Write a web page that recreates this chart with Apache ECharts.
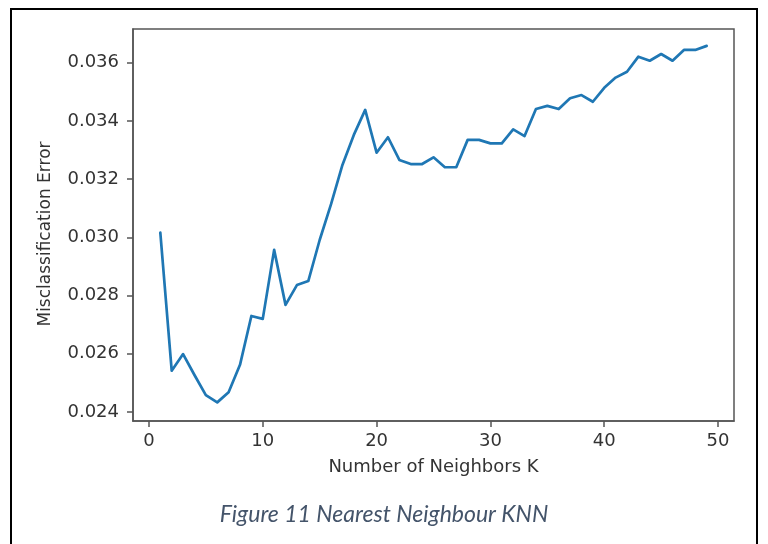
<!DOCTYPE html>
<html>
<head>
<meta charset="utf-8">
<script src="https://cdn.jsdelivr.net/npm/echarts@6/dist/echarts.min.js"></script>
<style>
  html, body { margin: 0; padding: 0; background: #ffffff; }
  #chart { width: 768px; height: 544px; }
</style>
</head>
<body>
<div id="chart"></div>
<script>
// Number of neighbours K tried
const kValues = [
  1, 2, 3, 4, 5, 6, 7, 8, 9, 10,
  11, 12, 13, 14, 15, 16, 17, 18, 19, 20,
  21, 22, 23, 24, 25, 26, 27, 28, 29, 30,
  31, 32, 33, 34, 35, 36, 37, 38, 39, 40,
  41, 42, 43, 44, 45, 46, 47, 48, 49
];

// Misclassification error for each K
const errorValues = [
  0.03016, 0.02542, 0.02599, 0.02527, 0.02458, 0.02433, 0.02468, 0.02562, 0.02730, 0.02720,
  0.02957, 0.02768, 0.02836, 0.02850, 0.02991, 0.03114, 0.03249, 0.03352, 0.03438, 0.03291,
  0.03344, 0.03266, 0.03252, 0.03252, 0.03275, 0.03241, 0.03241, 0.03335, 0.03335, 0.03323,
  0.03323, 0.03371, 0.03348, 0.03441, 0.03452, 0.03441, 0.03478, 0.03489, 0.03466, 0.03514,
  0.03549, 0.03569, 0.03621, 0.03607, 0.03630, 0.03607, 0.03644, 0.03644, 0.03658
];

// Tick labels
const xTicks = [0, 10, 20, 30, 40, 50];
const yTicks = [0.024, 0.026, 0.028, 0.030, 0.032, 0.034, 0.036];

const xTitle = 'Number of Neighbors K';
const yTitle = 'Misclassification Error';
const caption = 'Figure 11 Nearest Neighbour KNN';

const tickFont = { fontFamily: 'DejaVu Sans', fontSize: 18, color: '#333333' };
const spine = '#555555';

const chart = echarts.init(document.getElementById('chart'), null, { renderer: 'canvas' });

chart.setOption({
  backgroundColor: '#ffffff',
  animation: false,
  grid: {
    left: 133, top: 29, width: 601, height: 392,
    show: true, borderColor: spine, borderWidth: 1.5,
    backgroundColor: 'transparent',
    containLabel: false, outerBoundsMode: 'none'
  },
  xAxis: {
    type: 'value',
    min: -1.4, max: 51.4,
    name: xTitle,
    nameLocation: 'middle',
    nameGap: 37,
    nameTextStyle: { fontFamily: 'DejaVu Sans', fontSize: 18, color: '#333333' },
    axisLine: { show: true, onZero: false, lineStyle: { color: spine, width: 1.5 } },
    axisTick: { show: true, inside: false, customValues: xTicks, length: 6, lineStyle: { color: spine, width: 1.5 } },
    axisLabel: { show: true, customValues: xTicks, margin: 11, ...tickFont },
    splitLine: { show: false }
  },
  yAxis: {
    type: 'value',
    min: 0.02369, max: 0.03716,
    axisLine: { show: true, onZero: false, lineStyle: { color: spine, width: 1.5 } },
    axisTick: { show: true, inside: false, customValues: yTicks, length: 6, lineStyle: { color: spine, width: 1.5 } },
    axisLabel: {
      show: true, customValues: yTicks, margin: 14, ...tickFont,
      formatter: v => v.toFixed(3)
    },
    splitLine: { show: false }
  },
  series: [{
    type: 'line',
    data: kValues.map((k, i) => [k, errorValues[i]]),
    showSymbol: false,
    lineStyle: { color: '#1f77b4', width: 2.7, join: 'round', cap: 'round' },
    itemStyle: { color: '#1f77b4' },
    z: 3
  }],
  graphic: [
    {
      type: 'rect',
      shape: { x: 11, y: 9, width: 746, height: 560 },
      style: { fill: null, stroke: '#000000', lineWidth: 2 },
      silent: true
    },
    {
      // vertical axis title
      type: 'text',
      x: 46, y: 234,
      rotation: Math.PI / 2,
      style: {
        text: yTitle,
        font: '17px "DejaVu Sans"',
        fill: '#333333',
        align: 'center',
        verticalAlign: 'middle'
      },
      silent: true
    },
    {
      type: 'text',
      x: 384, y: 515,
      style: {
        text: caption,
        font: 'italic 23px Lato',
        fill: '#44546a',
        align: 'center',
        verticalAlign: 'middle'
      },
      silent: true
    }
  ]
});
</script>
</body>
</html>
